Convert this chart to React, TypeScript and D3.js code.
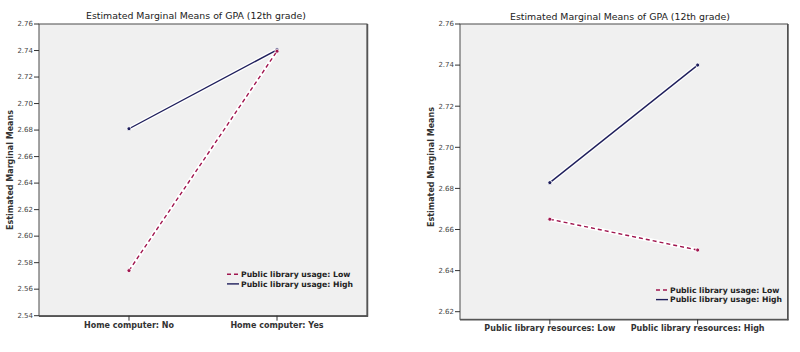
import React from 'react';
import * as d3 from 'd3';

// Chart values
const computerCategories = ['Home computer: No', 'Home computer: Yes'];
const computerLow = [2.574, 2.7395];
const computerHigh = [2.681, 2.7405];
const computerTicks = [2.54, 2.56, 2.58, 2.6, 2.62, 2.64, 2.66, 2.68, 2.7, 2.72, 2.74, 2.76];

const resourceCategories = ['Public library resources: Low', 'Public library resources: High'];
const resourceLow = [2.665, 2.65];
const resourceHigh = [2.6828, 2.74];
const resourceTicks = [2.62, 2.64, 2.66, 2.68, 2.7, 2.72, 2.74, 2.76];

const titleText = 'Estimated Marginal Means of GPA (12th grade)';
const yLabelText = 'Estimated Marginal Means';
const legendLabels = ['Public library usage: Low', 'Public library usage: High'];

const LOW_COLOR = '#a0164f';
const HIGH_COLOR = '#1f1f5c';
const FONT = 'Verdana, "DejaVu Sans", sans-serif';

type PanelProps = {
  left: number; right: number; top: number; bottom: number;
  domain: [number, number];
  ticks: number[];
  categories: string[];
  low: number[];
  high: number[];
  legendX: number; legendY: number;
  titleX: number; titleY: number;
  yLabelX: number; yLabelY: number;
};

const Panel = (p: PanelProps) => {
  const x = d3.scalePoint<string>()
    .domain(p.categories)
    .range([p.left, p.right])
    .padding(0.608);
  const y = d3.scaleLinear().domain(p.domain).range([p.bottom, p.top]);
  const fmt = d3.format('.2f');

  const line = d3.line<number>()
    .x((_, i) => x(p.categories[i]) as number)
    .y(d => y(d));

  const series = [
    { values: p.high, color: HIGH_COLOR, dash: undefined as string | undefined },
    { values: p.low, color: LOW_COLOR, dash: '4,3' },
  ];

  return (
    <g>
      <text x={p.titleX} y={p.titleY} textAnchor="middle" fontFamily={FONT}
        fontSize={9.4} fontWeight={500} fill="#222">{titleText}</text>

      {/* plot area */}
      <rect x={p.left} y={p.top} width={p.right - p.left} height={p.bottom - p.top}
        fill="#f0f0f0" stroke="#4a4a4a" strokeWidth={1} />
      <line x1={p.right + 0.5} x2={p.right + 0.5} y1={p.top} y2={p.bottom + 1}
        stroke="#555" strokeWidth={1.5} />
      <line x1={p.left} x2={p.right + 1} y1={p.bottom + 0.5} y2={p.bottom + 0.5}
        stroke="#555" strokeWidth={1.5} />

      {/* y axis */}
      {p.ticks.map(t => (
        <g key={t}>
          <line x1={p.left - 5} x2={p.left} y1={y(t)} y2={y(t)} stroke="#333" strokeWidth={1} />
          <text x={p.left - 6} y={y(t)} dy="0.33em" textAnchor="end" fontFamily={FONT}
            fontSize={7} fill="#444">{fmt(t)}</text>
        </g>
      ))}
      <text transform={`translate(${p.yLabelX},${p.yLabelY}) rotate(-90)`} textAnchor="middle"
        dy="0.33em" fontFamily={FONT} fontSize={8} fontWeight="bold" fill="#333">{yLabelText}</text>

      {/* x axis */}
      {p.categories.map(c => (
        <g key={c}>
          <line x1={x(c)} x2={x(c)} y1={p.bottom} y2={p.bottom + 5} stroke="#333" strokeWidth={1} />
          <text x={x(c)} y={p.bottom + 12} textAnchor="middle" fontFamily={FONT}
            fontSize={8} fontWeight="bold" fill="#333">{c}</text>
        </g>
      ))}

      {/* white halos */}
      {series.map((s, i) => (
        <path key={`h${i}`} d={line(s.values) ?? ''} fill="none" stroke="#fff" strokeWidth={4} />
      ))}
      {series.map((s, i) => (
        <path key={`l${i}`} d={line(s.values) ?? ''} fill="none" stroke={s.color}
          strokeWidth={1.4} strokeDasharray={s.dash} />
      ))}
      {series.map((s, i) => s.values.map((v, j) => (
        <circle key={`c${i}-${j}`} cx={x(p.categories[j])} cy={y(v)} r={2}
          fill={s.color} stroke="#fff" strokeWidth={0.8} />
      )))}

      {/* legend */}
      {[LOW_COLOR, HIGH_COLOR].map((col, i) => (
        <g key={col} transform={`translate(${p.legendX},${p.legendY + i * 9.6})`}>
          <line x1={0} x2={12} y1={0} y2={0} stroke={col} strokeWidth={1.4}
            strokeDasharray={i === 0 ? '4,3' : undefined} />
          <text x={14} y={0} dy="0.35em" fontFamily={FONT} fontSize={7.7} fontWeight="bold"
            fill="#222">{legendLabels[i]}</text>
        </g>
      ))}
    </g>
  );
};

export default function App() {
  return (
    <div style={{ position: 'absolute', left: 0, top: 0 }}>
      <svg width={800} height={352} viewBox="0 0 800 352" style={{ display: 'block', background: '#fff' }}>
        <Panel left={39} right={367} top={24} bottom={315.7}
          domain={[2.54, 2.76]} ticks={computerTicks}
          categories={computerCategories} low={computerLow} high={computerHigh}
          legendX={227} legendY={274.3} titleX={196} titleY={19}
          yLabelX={10} yLabelY={170} />
        <Panel left={460} right={787.5} top={24} bottom={319.3}
          domain={[2.6163, 2.76]} ticks={resourceTicks}
          categories={resourceCategories} low={resourceLow} high={resourceHigh}
          legendX={656} legendY={290} titleX={620} titleY={20}
          yLabelX={431} yLabelY={167} />
      </svg>
    </div>
  );
}
